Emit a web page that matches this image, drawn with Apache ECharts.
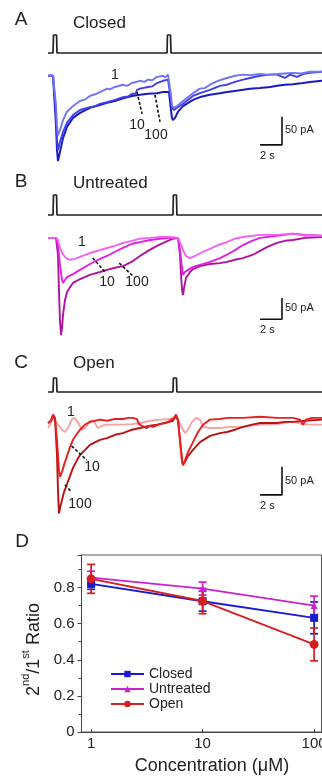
<!DOCTYPE html>
<html>
<head>
<meta charset="utf-8">
<script src="https://cdn.jsdelivr.net/npm/echarts@6/dist/echarts.min.js"></script>
<style>html,body{margin:0;padding:0;background:#fff}#main{width:322px;height:779px}</style>
</head>
<body>
<div id="main"></div>
<script>
var chart = echarts.init(document.getElementById('main'));
var FONT = 'Liberation Sans, Arial, sans-serif';

// stimulus protocol (0 = baseline, 1 = pulse), time in s
var stimA = [[0,0],[0.46,0],[0.5,1],[0.78,1],[0.82,0],[10.86,0],[10.9,1],[11.18,1],[11.22,0],[25,0]];
var stimB = [[0,0],[0.46,0],[0.5,1],[0.78,1],[0.82,0],[11.4,0],[11.44,1],[11.72,1],[11.76,0],[25,0]];
var stimC = [[0,0],[0.46,0],[0.5,1],[0.78,1],[0.82,0],[11.4,0],[11.44,1],[11.72,1],[11.76,0],[25,0]];

// A: Closed, current traces [time s, current pA]
var closed1 = [[0,2],[0.46,2],[0.64,0],[0.73,-50],[0.82,-86],[0.91,-104],[1.09,-95],[1.37,-77],[1.73,-62],[2.28,-52],[2.92,-43],[3.4,-40],[3.83,-34],[4.3,-31],[4.74,-27],[5.38,-21],[5.7,-22],[6.11,-18],[6.84,-14],[7.2,-16],[7.66,-11],[8.39,-7],[8.8,-9],[9.12,-5],[9.5,-6],[9.94,0],[10.49,2],[10.7,-1],[10.95,4],[11.13,2],[11.22,-32],[11.31,-52],[11.5,-55],[11.77,-52],[12.32,-43],[13.23,-29],[13.87,-21],[14.3,-20],[14.78,-14],[15.51,-7],[16.33,-2],[17.06,2],[17.79,4],[18.5,3],[19.34,5],[20.1,4],[20.89,5],[21.6,6],[22.35,7],[23.1,6],[23.9,9],[25,9]];
var closed10 = [[0,2],[0.46,2],[0.64,0],[0.73,-68],[0.82,-112],[0.91,-130],[1.09,-116],[1.37,-98],[1.73,-82],[2.28,-68],[2.92,-59],[3.83,-54],[4.3,-52],[4.74,-48],[5.38,-45],[6.11,-41],[6.84,-36],[7.3,-35],[7.66,-30],[8.0,-30],[8.12,-23],[8.39,-21],[9.12,-18],[9.5,-17],[9.94,-11],[10.49,-7],[10.95,-5],[11.13,-5],[11.22,-41],[11.31,-55],[11.5,-59],[11.77,-55],[12.32,-48],[13.23,-34],[13.87,-29],[14.78,-23],[15.69,-16],[16.33,-14],[17.06,-9],[17.79,-5],[18.43,-2],[19.34,2],[20.26,4],[20.89,4],[21.62,-2],[22.08,4],[22.72,0],[23.27,5],[23.9,7],[25,9]];
var closed100 = [[0,2],[0.46,2],[0.64,0],[0.73,-86],[0.82,-130],[0.91,-150],[1.09,-134],[1.37,-109],[1.73,-89],[2.28,-73],[2.92,-64],[3.83,-55],[4.74,-50],[5.38,-46],[6.11,-43],[6.84,-38],[7.66,-34],[8.39,-32],[9.12,-30],[9.94,-29],[10.49,-27],[11.04,-27],[11.13,-29],[11.22,-59],[11.31,-73],[11.4,-77],[11.59,-73],[11.86,-62],[12.32,-52],[13.23,-41],[13.87,-36],[14.78,-32],[15.69,-29],[16.33,-27],[17.06,-25],[17.79,-23],[18.43,-21],[19.34,-20],[20.26,-18],[20.89,-16],[21.62,-14],[22.35,-13],[23.27,-11],[23.9,-9],[25,-7]];

// B: Untreated
var untreated1 = [[0,0],[0.73,0],[0.91,-5],[1.09,-24],[1.37,-40],[1.73,-50],[2.01,-52],[2.46,-50],[2.92,-45],[3.83,-36],[4.74,-29],[5.38,-24],[6.11,-19],[6.84,-12],[7.66,-7],[8.39,-2],[9.31,0],[10.22,2],[11.13,2],[11.86,0],[12.04,-10],[12.32,-29],[12.59,-43],[12.96,-48],[13.41,-43],[14.14,-33],[14.78,-26],[15.51,-17],[16.33,-10],[17.06,-2],[17.79,2],[19.34,7],[20.89,7],[22.35,10],[23.45,5],[25,5]];
var untreated10 = [[0,0],[0.73,0],[0.91,-17],[1.09,-64],[1.28,-100],[1.37,-107],[1.55,-100],[1.73,-93],[2.28,-86],[2.92,-76],[3.83,-62],[4.74,-50],[5.38,-43],[6.11,-33],[6.84,-24],[7.66,-14],[8.39,-10],[9.31,-5],[10.22,-2],[11.13,0],[11.86,0],[12.04,-29],[12.23,-71],[12.32,-88],[12.5,-81],[12.77,-76],[13.23,-69],[13.87,-64],[14.78,-57],[15.69,-48],[16.33,-40],[17.06,-29],[17.79,-17],[18.61,-7],[19.34,0],[20.89,5],[22.35,10],[23.45,7],[25,5]];
var untreated100 = [[0,0],[0.73,0],[0.91,-40],[1.0,-124],[1.09,-195],[1.19,-231],[1.28,-214],[1.37,-183],[1.55,-148],[1.73,-129],[2.01,-117],[2.28,-107],[2.92,-98],[3.83,-88],[4.74,-81],[5.38,-76],[6.11,-71],[6.84,-67],[7.75,-55],[8.39,-43],[9.12,-31],[9.94,-19],[10.68,-10],[11.4,-2],[11.86,0],[12.04,-40],[12.14,-88],[12.23,-124],[12.32,-136],[12.41,-119],[12.59,-95],[12.96,-81],[13.23,-74],[13.87,-67],[14.78,-62],[15.69,-60],[16.33,-57],[17.06,-52],[17.79,-48],[18.7,-40],[19.34,-31],[20.07,-21],[20.89,-12],[21.62,-7],[22.35,-5],[23.45,0],[25,2]];

// C: Open
var open1 = [[0,-11],[0.18,-5],[0.46,7],[0.73,0],[0.91,-5],[1.28,-14],[1.55,-18],[1.82,-11],[2.19,5],[2.46,7],[2.83,-4],[3.1,-14],[3.47,-9],[3.83,2],[4.2,0],[4.56,-11],[4.93,-7],[5.38,-5],[6.11,-5],[6.84,-5],[7.66,-4],[8.39,-2],[9.31,2],[10.22,4],[11.13,5],[11.59,9],[11.86,4],[12.23,-11],[12.5,-20],[12.77,-14],[13.14,0],[13.5,7],[13.87,4],[14.14,-9],[14.78,-11],[15.69,-11],[16.61,-9],[17.79,-9],[19.34,-5],[20.89,-4],[22.35,0],[23.27,-4],[23.9,-5],[25,-5]];
var open10 = [[0,-2],[0.27,2],[0.46,13],[0.64,7],[0.82,-32],[1.0,-86],[1.09,-98],[1.28,-89],[1.46,-77],[1.73,-61],[2.01,-45],[2.28,-32],[2.65,-21],[2.92,-14],[3.38,-5],[3.83,0],[4.29,2],[4.74,4],[5.38,2],[6.11,5],[6.84,5],[7.3,7],[7.75,7],[8.12,5],[8.3,-4],[8.58,-7],[9.03,-11],[9.31,-7],[9.58,-9],[10.22,-4],[10.95,0],[11.5,7],[11.68,13],[11.86,4],[12.04,-32],[12.23,-71],[12.32,-77],[12.5,-68],[12.77,-54],[13.23,-36],[13.69,-18],[14.14,-5],[14.78,4],[15.69,5],[16.33,7],[17.79,7],[19.34,9],[20.89,7],[22.35,7],[22.99,4],[23.27,-5],[23.54,4],[24.09,7],[25,7]];
var open100 = [[0,-2],[0.27,2],[0.46,11],[0.64,5],[0.82,-59],[0.91,-121],[1.0,-163],[1.09,-154],[1.28,-139],[1.46,-125],[1.73,-111],[2.01,-96],[2.28,-82],[2.65,-68],[2.92,-59],[3.38,-50],[3.83,-41],[4.74,-32],[5.38,-29],[6.11,-23],[6.84,-20],[7.66,-14],[8.39,-11],[9.31,-7],[9.94,-5],[10.68,-2],[11.4,2],[11.68,11],[11.86,2],[12.04,-32],[12.23,-68],[12.32,-77],[12.5,-71],[12.77,-61],[13.23,-50],[13.87,-36],[14.78,-25],[15.69,-20],[16.33,-18],[17.06,-14],[17.79,-9],[18.61,-5],[19.34,-2],[20.89,-2],[21.62,0],[22.35,0],[23.45,2],[25,4]];

// concentration labels pointers (dashed) and scale bars, same units
var pointersA = [[[8.12,-27],[8.58,-66]], [[9.76,-32],[10.22,-80]]];
var pointersB = [[[4.08,-48],[5.29,-83]], [[6.5,-60],[7.85,-93]]];
var pointersC = [[[2.16,-43],[3.53,-68]], [[1.55,-112],[2.07,-123]]];
var scaleA = [[19.35,-121],[21.35,-121],[21.35,-71]];
var scaleB = [[19.35,-193],[21.35,-193],[21.35,-143]];
var scaleC = [[19.35,-130],[21.35,-130],[21.35,-80]];

// D: paired-pulse ratio
var concentrations = [1, 10, 100];
var closedRatio = [0.82, 0.724, 0.632];
var closedErr = [0.03, 0.055, 0.088];
var untreatedRatio = [0.855, 0.794, 0.70];
var untreatedErr = [0.035, 0.036, 0.052];
var openRatio = [0.848, 0.725, 0.485];
var openErr = [0.08, 0.07, 0.091];

var grids = [
    {left: 48, right: 0, top: 35, height: 18},
    {left: 48, right: 0, top: 60, height: 118},
    {left: 48, right: 0, top: 195, height: 20},
    {left: 48, right: 0, top: 221, height: 118},
    {left: 48, right: 0, top: 378, height: 14},
    {left: 48, right: 0, top: 405, height: 118},
    {left: 81.5, right: 0.5, top: 555, bottom: 47, show: true, borderColor: '#555', borderWidth: 1}
];
grids.forEach(function (g) { g.outerBoundsMode = 'none'; });

var xAxes = [], yAxes = [];
var yRanges = [[0,1],[-180,30],[0,1],[-240,40],[0,1],[-180,30]];
for (var i = 0; i < 6; i++) {
    xAxes.push({type: 'value', gridIndex: i, min: 0, max: 25, show: false});
    yAxes.push({type: 'value', gridIndex: i, min: yRanges[i][0], max: yRanges[i][1], show: false});
}
xAxes.push({
    type: 'log', gridIndex: 6, logBase: 10, min: 0.82, max: 116.5,
    name: 'Concentration (\u03bcM)', nameLocation: 'middle', nameGap: 25,
    nameTextStyle: {fontFamily: FONT, fontSize: 18, color: '#222', padding: [0, 0, 0, 21]},
    axisLine: {lineStyle: {color: '#444', width: 1}},
    axisTick: {inside: true, length: 3, customValues: concentrations, lineStyle: {color: '#444'}},
    axisLabel: {customValues: concentrations, margin: 4, fontFamily: FONT, fontSize: 15, color: '#222'},
    splitLine: {show: false}, minorTick: {show: false}
});
yAxes.push({
    type: 'value', gridIndex: 6, min: 0, max: 0.98, interval: 0.2,
    name: '{a|2}{b|nd}{a|/1}{b|st}{a| Ratio}', nameLocation: 'middle', nameGap: 33,
    nameTextStyle: {
        fontFamily: FONT, color: '#222', padding: [0, 12, 0, 0],
        rich: {
            a: {fontFamily: FONT, fontSize: 18, color: '#222', lineHeight: 22, verticalAlign: 'bottom'},
            b: {fontFamily: FONT, fontSize: 11, color: '#222', lineHeight: 22, verticalAlign: 'top'}
        }
    },
    axisLine: {show: true, lineStyle: {color: '#444', width: 1}},
    axisTick: {show: true, length: 4, lineStyle: {color: '#444'}},
    minorTick: {show: true, splitNumber: 2, length: 3, lineStyle: {color: '#444'}},
    axisLabel: {
        margin: 7, fontFamily: FONT, fontSize: 15, color: '#222', showMaxLabel: false,
        formatter: function (v) {
            var k = Math.round(v * 10);
            if (Math.abs(v * 10 - k) > 1e-6 || k % 2) return '';
            return v === 0 ? '0' : v.toFixed(1);
        }
    },
    splitLine: {show: false}
});

function trace(idx, data, color, width, extra) {
    var s = {
        type: 'line', xAxisIndex: idx, yAxisIndex: idx, data: data,
        symbol: 'none', clip: false, silent: true,
        lineStyle: {color: color, width: width || 1.6}
    };
    if (extra) s.lineStyle.type = extra;
    return s;
}

var series = [
    trace(0, stimA, '#222', 1.7),
    trace(1, closed100, '#1a1ac4', 2),
    trace(1, closed10, '#4040ea', 1.9),
    trace(1, closed1, '#7373f5', 1.9),
    trace(2, stimB, '#222', 1.7),
    trace(3, untreated100, '#ad169a', 1.9),
    trace(3, untreated10, '#e020e0', 1.9),
    trace(3, untreated1, '#f262f2', 1.9),
    trace(4, stimC, '#222', 1.7),
    trace(5, open1, '#f5a3a3', 1.9),
    trace(5, open100, '#b81212', 1.9),
    trace(5, open10, '#e82020', 1.9),
    trace(1, scaleA, '#111', 1.6),
    trace(3, scaleB, '#111', 1.6),
    trace(5, scaleC, '#111', 1.6)
];
[[1, pointersA], [3, pointersB], [5, pointersC]].forEach(function (p) {
    p[1].forEach(function (seg) { series.push(trace(p[0], seg, '#111', 1.6, [3, 2])); });
});

function errorBars(name, values, errs, color) {
    return {
        type: 'custom', name: name, xAxisIndex: 6, yAxisIndex: 6, silent: true, z: 3,
        data: concentrations.map(function (c, k) { return [c, values[k], errs[k]]; }),
        encode: {x: 0, y: 1},
        renderItem: function (params, api) {
            var x = api.value(0), y = api.value(1), e = api.value(2);
            var top = api.coord([x, y + e]), bot = api.coord([x, y - e]);
            var st = {stroke: color, lineWidth: 1.7};
            return {type: 'group', children: [
                {type: 'line', shape: {x1: top[0], y1: top[1], x2: bot[0], y2: bot[1]}, style: st},
                {type: 'line', shape: {x1: top[0] - 4, y1: top[1], x2: top[0] + 4, y2: top[1]}, style: st},
                {type: 'line', shape: {x1: bot[0] - 4, y1: bot[1], x2: bot[0] + 4, y2: bot[1]}, style: st}
            ]};
        }
    };
}
function ratioLine(name, values, color, symbol, size) {
    return {
        type: 'line', name: name, xAxisIndex: 6, yAxisIndex: 6, z: 4,
        data: concentrations.map(function (c, k) { return [c, values[k]]; }),
        symbol: symbol, symbolSize: size, showAllSymbol: true,
        itemStyle: {color: color}, lineStyle: {color: color, width: 1.9}
    };
}
series.push(errorBars('Closed err', closedRatio, closedErr, '#1a1ad0'));
series.push(errorBars('Untreated err', untreatedRatio, untreatedErr, '#cc22cc'));
series.push(errorBars('Open err', openRatio, openErr, '#d42020'));
series.push(ratioLine('Closed', closedRatio, '#1a1ad0', 'rect', 8));
series.push(ratioLine('Untreated', untreatedRatio, '#cc22cc', 'triangle', 7));
series.push(ratioLine('Open', openRatio, '#d42020', 'circle', 9));

function txt(x, y, s, size, align) {
    return {type: 'text', x: x, y: y, silent: true, style: {
        text: s, fontFamily: FONT, fontSize: size, fill: '#222',
        align: align || 'left', verticalAlign: 'middle'
    }};
}
var graphics = [
    txt(21, 20, 'A', 19, 'center'), txt(73, 23, 'Closed', 17),
    txt(21, 182, 'B', 19, 'center'), txt(73, 183, 'Untreated', 17),
    txt(21, 363, 'C', 19, 'center'), txt(73, 363, 'Open', 17),
    txt(22, 542, 'D', 19, 'center'),
    txt(115, 75, '1', 14, 'center'), txt(137, 125, '10', 14, 'center'), txt(156, 135, '100', 14, 'center'),
    txt(82, 242, '1', 14, 'center'), txt(107, 282, '10', 14, 'center'), txt(137, 282, '100', 14, 'center'),
    txt(71, 412, '1', 14, 'center'), txt(92, 467, '10', 14, 'center'), txt(80, 504, '100', 14, 'center'),
    txt(285, 130, '50 pA', 11), txt(260, 156, '2 s', 11),
    txt(285, 308, '50 pA', 11), txt(260, 330, '2 s', 11),
    txt(285, 481, '50 pA', 11), txt(260, 506, '2 s', 11)
];

chart.setOption({
    animation: false,
    backgroundColor: '#fff',
    grid: grids,
    xAxis: xAxes,
    yAxis: yAxes,
    legend: {
        data: ['Closed', 'Untreated', 'Open'], orient: 'vertical',
        left: 105, top: 662, itemWidth: 33, itemHeight: 8, itemGap: 1,
        textStyle: {fontFamily: FONT, fontSize: 14, color: '#222'},
        selectedMode: false
    },
    series: series,
    graphic: graphics
});
</script>
</body>
</html>
